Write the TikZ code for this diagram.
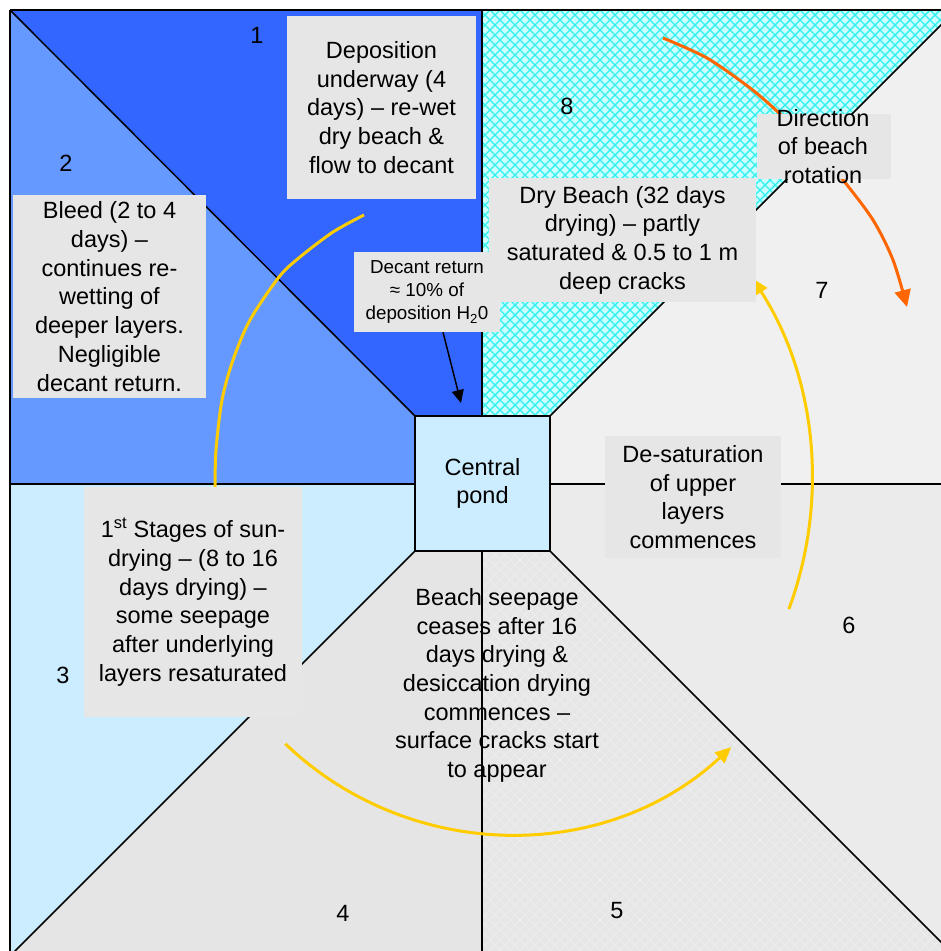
\documentclass[tikz,border=0pt]{standalone}
\usepackage{fontspec}
\setmainfont{Liberation Sans}
\usetikzlibrary{arrows.meta}
\definecolor{rone}{RGB}{51,102,255}
\definecolor{rtwo}{RGB}{102,153,255}
\definecolor{rthree}{RGB}{204,236,255}
\definecolor{rfour}{RGB}{229,229,229}
\definecolor{rfive}{RGB}{230,230,230}
\definecolor{rfivel}{RGB}{236,236,236}
\definecolor{rsix}{RGB}{235,235,235}
\definecolor{rseven}{RGB}{240,240,240}
\definecolor{reight}{RGB}{204,255,255}
\definecolor{hatchc}{RGB}{51,240,240}
\definecolor{boxg}{RGB}{230,230,230}
\definecolor{yel}{RGB}{255,204,0}
\definecolor{ora}{RGB}{255,102,0}
\newcommand\txtmain{\fontsize{23.5}{28.7}\selectfont}
\newcommand\txtsmall{\fontsize{18.8}{23.3}\selectfont}
\tikzset{
  border/.style={black, line width=1.5pt},
  tbox/.style={fill=boxg, inner sep=0pt, align=center, font=\txtmain},
  ttext/.style={inner sep=0pt, align=center, font=\txtmain},
  num/.style={inner sep=0pt, font=\txtmain},
  yarc/.style={yel, line width=3pt},
  oarc/.style={ora, line width=3pt},
  ytip/.style={-{Triangle[length=16pt,width=14pt]}},
  otip/.style={-{Triangle[length=17pt,width=16pt]}},
  hatch/.style={hatchc, line width=1.4pt},
  hatchg/.style={rfivel, line width=1.3pt}
}
\begin{document}
\begin{tikzpicture}[x=1pt,y=-1pt]
\useasboundingbox (0,0) rectangle (941,951);
\fill[white] (0,0) rectangle (941,951);
\begin{scope}
\clip (0,0) rectangle (941,951);
% regions
\fill[rone] (10,10) -- (482,10) -- (482,416) -- (415,416) -- cycle;
\fill[rtwo] (10,10) -- (415,416) -- (415,484) -- (10,484) -- cycle;
\fill[rthree] (10,484) -- (415,484) -- (415,551) -- (-4,970) -- (10,970) -- cycle;
\fill[rfour] (415,551) -- (482,551) -- (482,970) -- (-4,970) -- cycle;
\fill[rsix] (550,484) -- (970,484) -- (970,971) -- (550,551) -- cycle;
\fill[rseven] (550,416) -- (956,10) -- (970,10) -- (970,484) -- (550,484) -- cycle;
% region 5 with faint hatch
\begin{scope}
\clip (482,551) -- (550,551) -- (969,970) -- (482,970) -- cycle;
\fill[rfive] (470,540) rectangle (980,980);
\foreach \c in {-500,-490,...,10} { \draw[hatchg] (\c+540,540) -- ++(450,450); }
\foreach \c in {1020,1030,...,1960} { \draw[hatchg] (\c-540,540) -- ++(-450,450); }
\end{scope}
% region 8 with cyan hatch
\begin{scope}
\clip (482,10) -- (956,10) -- (550,416) -- (482,416) -- cycle;
\fill[reight] (470,0) rectangle (970,430);
\foreach \c in {40,50,...,960} { \draw[hatch] (\c,0) -- ++(450,450); }
\foreach \c in {480,490,...,1420} { \draw[hatch] (\c,0) -- ++(-450,450); }
\end{scope}
% boundary lines
\draw[border] (10,10) -- (415,416);
\draw[border] (482,10) -- (482,416);
\draw[border] (550,416) -- (956,10);
\draw[border] (10,484) -- (415,484);
\draw[border] (550,484) -- (970,484);
\draw[border] (415,551) -- (-4,970);
\draw[border] (550,551) -- (969,970);
\draw[border] (482,551) -- (482,970);
\draw[border] (10,10) -- (970,10);
\draw[border] (10,10) -- (10,970);
\end{scope}
% central pond
\node[draw=black, line width=1.5pt, fill=rthree, minimum width=135pt, minimum height=135pt, inner sep=0pt, align=center, font=\txtmain] (pond) at (482.5,483.5) {Central\\pond};
% yellow arcs
\draw[yarc] plot[smooth] coordinates {(364,215) (333,232) (300,257) (279,277) (250,320) (233,360) (222,400) (216,450) (215,487)};
\draw[yarc, ytip] (510,509) ++(133.75:325) arc[start angle=133.75, end angle=47.1, radius=325];
\draw[yarc, ytip] (440,480) ++(20.3:372) arc[start angle=20.3, end angle=-32.8, radius=372];
% orange arc
\draw[oarc, otip] plot[smooth] coordinates {(663,38) (707,58) (750,88) (778,112) (812,145) (843,180) (873,220) (893,260) (907,307)};
% text boxes
\node[tbox, minimum width=189pt, minimum height=183pt] (dep) at (381.5,107.5) {Deposition\\underway (4\\days) – re-wet\\dry beach \&\\flow to decant};
\node[tbox, minimum width=193pt, minimum height=203pt] (bleed) at (109.5,296.5) {Bleed (2 to 4\\days) –\\continues re-\\wetting of\\deeper layers.\\Negligible\\decant return.};
\node[tbox, minimum width=267pt, minimum height=124pt] (dry) at (622.5,240) {Dry Beach (32 days\\drying) – partly\\saturated \& 0.5 to 1 m\\deep cracks};
\node[tbox, font=\txtsmall, minimum width=146pt, minimum height=80pt] (decant) at (427,292) {Decant return\\≈ 10\% of\\deposition H\textsubscript{2}0};
\node[fill=boxg, inner sep=0pt, minimum width=134pt, minimum height=65pt] (dirbox) at (824,146.5) {};
\node[ttext] (dirtext) at (823,146.5) {Direction\\of beach\\rotation};
\node[tbox, minimum width=176pt, minimum height=122pt] (desat) at (693,497) {De-saturation\\of upper\\layers\\commences};
\node[tbox, minimum width=218pt, minimum height=230pt] (first) at (193,602) {1\textsuperscript{st} Stages of sun-\\drying – (8 to 16\\days drying) –\\some seepage\\after underlying\\layers resaturated};
\node[ttext] (seep) at (497,685.5) {Beach seepage\\ceases after 16\\days drying \&\\desiccation drying\\commences –\\surface cracks start\\to appear};
% decant arrow
\coordinate (dtip) at (461,403);
\draw[black, line width=1.5pt, -{Triangle[length=13pt,width=12pt]}] ([xshift=16pt]decant.south) -- (dtip);
% numbers
\node[num] (n1) at (257,35) {1};
\node[num] (n2) at (66,163) {2};
\node[num] (n3) at (63,675) {3};
\node[num] (n4) at (343,913) {4};
\node[num] (n5) at (617,911) {5};
\node[num] (n6) at (849,625) {6};
\node[num] (n7) at (822,290) {7};
\node[num] (n8) at (567,106) {8};
\end{tikzpicture}
\end{document}
